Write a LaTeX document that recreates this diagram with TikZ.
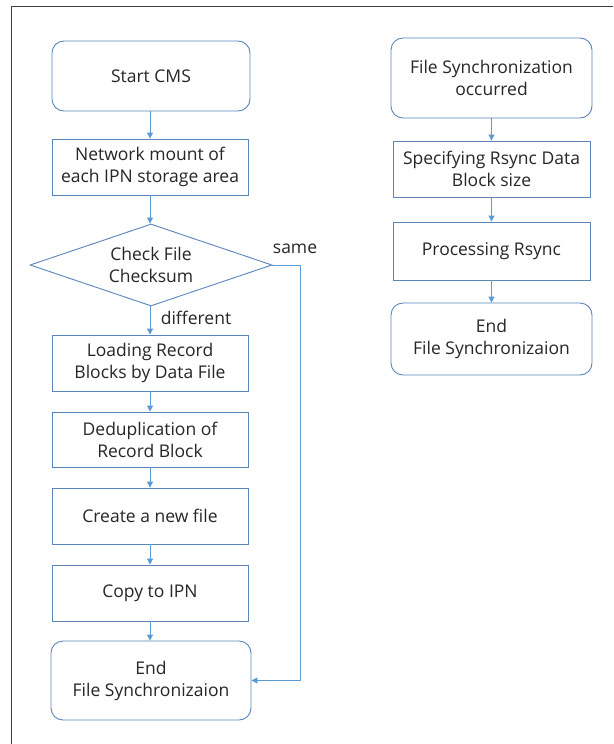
\documentclass[tikz,border=0pt]{standalone}
\usepackage{fontspec}
\setmainfont{Open Sans}
\usetikzlibrary{shapes.geometric,arrows.meta}
\definecolor{boxline}{HTML}{5A86BC}
\definecolor{arrowc}{HTML}{5B9BD5}
\definecolor{txt}{HTML}{262626}
\definecolor{framec}{HTML}{404040}
\begin{document}
\begin{tikzpicture}[x=1pt,y=-1pt,
  every node/.style={font=\fontsize{17.5}{22}\selectfont, text=txt, align=center},
  procbox/.style={draw=boxline, line width=0.9pt, rectangle, inner sep=0pt},
  termbox/.style={draw=boxline, line width=0.9pt, rectangle, rounded corners=12pt, inner sep=0pt},
  decbox/.style={draw=boxline, line width=0.9pt, diamond, aspect=3, inner sep=0pt},
  flow/.style={draw=arrowc, line width=0.9pt, -{Triangle[length=6pt,width=6pt]}},
  lbl/.style={font=\fontsize{17.5}{20}\selectfont}]
\useasboundingbox (0,0) rectangle (613,744);
\fill[white] (0,0) rectangle (613,744);
\draw[framec, line width=0.8pt] (613,6) -- (11,6) -- (11,744);
% left column
\node[termbox, minimum width=198pt, minimum height=70pt] (start) at (151,76) {Start CMS};
\node[procbox, minimum width=196pt, minimum height=56pt] (mount) at (150,167) {Network mount of\\each IPN storage area};
\node[decbox, minimum width=242pt, minimum height=82pt] (check) at (151,265) {Check File\\Checksum};
\node[procbox, minimum width=196pt, minimum height=56pt] (load) at (150,363) {Loading Record\\Blocks by Data File};
\node[procbox, minimum width=196pt, minimum height=55pt] (dedup) at (150,439.5) {Deduplication of\\Record Block};
\node[procbox, minimum width=196pt, minimum height=56pt] (create) at (150,516) {Create a new file};
\node[procbox, minimum width=196pt, minimum height=56pt] (copy) at (150,593) {Copy to IPN};
\node[termbox, minimum width=200pt, minimum height=79pt] (endl) at (151,680.5) {End\\File Synchronizaion};
% right column
\node[termbox, minimum width=201pt, minimum height=80pt] (occ) at (491.5,78) {File Synchronization\\occurred};
\node[procbox, minimum width=197pt, minimum height=56pt] (spec) at (491.5,169) {Specifying Rsync Data\\Block size};
\node[procbox, minimum width=197pt, minimum height=58pt] (proc) at (491.5,251) {Processing Rsync};
\node[termbox, minimum width=201pt, minimum height=72pt] (endr) at (491.5,339) {End\\File Synchronizaion};
% labels
\node[lbl] (same) at (295,249) {same};
\node[lbl] (diff) at (196,318) {different};
% connectors
\draw[flow] (start.south -| mount.north) -- (mount.north);
\draw[flow] (mount.south) -- (check.north -| mount.south);
\draw[flow] (check.south -| load.north) -- (load.north);
\draw[flow] (load.south) -- (dedup.north);
\draw[flow] (dedup.south) -- (create.north);
\draw[flow] (create.south) -- (copy.north);
\draw[flow] (copy.south) -- (endl.north -| copy.south);
\coordinate (sameR) at (300,265);
\draw[flow] (check.east) -- (sameR) |- (endl.east);
\draw[flow] (occ.south) -- (spec.north);
\draw[flow] (spec.south) -- (proc.north);
\draw[flow] (proc.south) -- (endr.north);
\end{tikzpicture}
\end{document}
